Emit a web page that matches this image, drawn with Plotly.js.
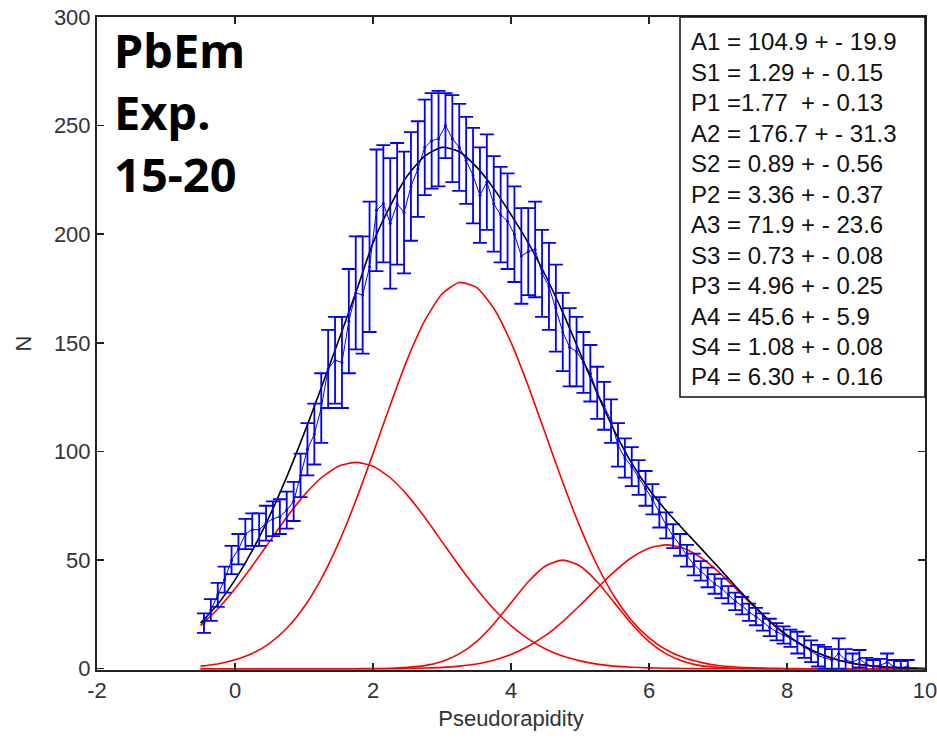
<!DOCTYPE html>
<html>
<head>
<meta charset="utf-8">
<script src="https://cdn.plot.ly/plotly-3.0.1.min.js"></script>
<style>html,body{margin:0;padding:0;background:#fff;}#plot{width:937px;height:739px;}</style>
</head>
<body>
<div id="plot"></div>
<script>
// Measured data points (Pseudorapidity, N, error)
var dataX = [-0.45,-0.35,-0.25,-0.15,-0.05,0.05,0.15,0.25,0.35,0.45,0.55,0.65,0.75,0.85,0.95,1.05,1.15,1.25,1.35,1.45,1.55,1.65,1.75,1.85,1.95,2.05,2.15,2.25,2.35,2.45,2.55,2.65,2.75,2.85,2.95,3.05,3.15,3.25,3.35,3.45,3.55,3.65,3.75,3.85,3.95,4.05,4.15,4.25,4.35,4.45,4.55,4.65,4.75,4.85,4.95,5.05,5.15,5.25,5.35,5.45,5.55,5.65,5.75,5.85,5.95,6.05,6.15,6.25,6.35,6.45,6.55,6.65,6.75,6.85,6.95,7.05,7.15,7.25,7.35,7.45,7.55,7.65,7.75,7.85,7.95,8.05,8.15,8.25,8.35,8.45,8.55,8.65,8.75,8.85,8.95,9.05,9.15,9.25,9.35,9.45,9.55,9.65,9.75];
var dataN = [21,27,34,41,50,55,62,64,64,67,69,70,73,77,89,101,108,120,138,142,141,160,173,172,185,211,214,205,214,210,222,230,240,243,244,250,244,240,234,227,218,224,214,209,206,200,190,192,193,182,176,166,155,148,146,141,136,127,121,114,103,97,93,88,83,78,72,66,61,57,52,48,45,42,39,37,34,31,29,26,24,21.5,19,17,15.5,14,12,10,8,6,5,4,7,4,3,4.6,2,1,1.5,3,1,0.5,1];
var dataErr = [4.5,5,5.5,6,6.5,7,7,7.5,7.5,8,8,8,8.5,9,10,12,14,16,18,20,21,24,26,27,30,28,27,30,28,28,25,22,22,22,22,15,20,20,20,22,22,22,22,22,22,22,22,20,22,20,20,20,18,18,16,14,13,12,11,10,10,9,9,8,8,7,7,6,5.5,5,5,5,4.5,4.5,4.5,4.5,4,4,4,4,4,4,4,4,4,4,5,5,5,5,5,5,7,5,4,4,3,3,3,4,3,3,3];

// Fit curves
var curveX = [-0.5,-0.25,0,0.25,0.5,0.75,1,1.25,1.5,1.75,2,2.25,2.5,2.75,3,3.25,3.5,3.75,4,4.25,4.5,4.75,5,5.25,5.5,5.75,6,6.25,6.5,6.75,7,7.25,7.5,7.75,8,8.25,8.5,8.75,9,9.25,9.5,9.75,10];
var comp1 = [19.8,27.5,36.8,47.3,58.5,69.7,79.8,87.9,93.2,95,93.2,87.9,79.8,69.7,58.5,47.3,36.8,27.5,19.8,13.7,9.1,5.8,3.6,2.1,1.2,0.7,0.4,0.2,0.1,0,0,0,0,0,0,0,0,0,0,0,0,0,0];
var comp2 = [1.2,2.2,4.1,7.0,11.7,18.6,28.4,41.4,57.8,77.3,99.0,121.4,142.6,160.2,172.5,177.8,175.5,165.9,150.2,130.1,108.0,85.8,65.3,47.5,33.1,22.1,14.2,8.7,5.1,2.9,1.5,0.8,0.4,0.2,0.1,0,0,0,0,0,0,0,0];
var comp3 = [0,0,0,0,0,0,0,0,0,0,0.1,0.2,0.6,1.4,3.3,6.8,12.5,20.6,30.3,40.0,47.3,50,47.3,40.0,30.3,20.6,12.5,6.8,3.3,1.4,0.6,0.2,0.1,0,0,0,0,0,0,0,0,0,0];
var comp4 = [0,0,0,0,0,0,0,0,0,0,0,0,0.1,0.3,0.6,1.2,2.2,3.9,6.5,10.3,15.3,21.7,29.2,37.1,44.8,51.2,55.5,57,55.5,51.2,44.8,37.1,29.2,21.7,15.3,10.3,6.5,3.9,2.2,1.2,0.6,0.3,0.1];
var total = [21.0,29.7,40.9,54.3,70.2,88.3,108.2,129.3,151.0,173,196,213,227,236,240,238,231,221,209,196,181,164,145.4,126.7,109.4,94.6,82.6,72.7,64.0,55.5,46.9,38.1,29.7,21.9,15.4,10.3,6.5,3.9,2.2,1.2,0.6,0.3,0.1];

// Tick labels
var xTickVals = [-2,0,2,4,6,8,10];
var xTickText = ["-2","0","2","4","6","8","10"];
var yTickVals = [0,50,100,150,200,250,300];
var yTickText = ["0","50","100","150","200","250","300"];

var fitLines = ["A1 = 104.9 + - 19.9","S1 = 1.29 + - 0.15","P1 =1.77  + - 0.13","A2 = 176.7 + - 31.3","S2 = 0.89 + - 0.56","P2 = 3.36 + - 0.37","A3 = 71.9 + - 23.6","S3 = 0.73 + - 0.08","P3 = 4.96 + - 0.25","A4 = 45.6 + - 5.9","S4 = 1.08 + - 0.08","P4 = 6.30 + - 0.16"];
var labelLines = ["PbEm","Exp.","15-20"];

var W = 937, H = 739, mL = 97, mR = 12, mT = 17, mB = 69;
var pw = W - mL - mR, ph = H - mT - mB;
function px2x(p){ return (p - mL) / pw; }
function px2y(p){ return 1 - (p - mT) / ph; }

var traces = [];
[comp1, comp2, comp3, comp4].forEach(function(c){
  traces.push({x: curveX, y: c, type: 'scatter', mode: 'lines',
    line: {color: '#ff0000', width: 1.6, shape: 'spline', smoothing: 0.6}, hoverinfo: 'skip'});
});
traces.push({x: curveX, y: total, type: 'scatter', mode: 'lines',
  line: {color: '#000000', width: 1.6, shape: 'spline', smoothing: 0.6}});
traces.push({x: dataX, y: dataN, type: 'scatter', mode: 'lines+markers',
  line: {color: '#0000ff', width: 1},
  marker: {color: '#0000ff', size: 3},
  error_y: {type: 'data', array: dataErr, visible: true, color: '#0000ff', thickness: 1.8, width: 7}});

var annotations = [];
fitLines.forEach(function(t, i){
  annotations.push({xref: 'paper', yref: 'paper', x: px2x(689), y: px2y(42 + i * 30.45),
    xanchor: 'left', yanchor: 'middle', text: t, showarrow: false,
    font: {family: 'Liberation Sans, Arial, sans-serif', size: 24, color: '#111'}});
});
labelLines.forEach(function(t, i){
  annotations.push({xref: 'paper', yref: 'paper', x: px2x(112), y: px2y(50 + i * 62),
    xanchor: 'left', yanchor: 'middle', text: '<b>' + t + '</b>', showarrow: false,
    font: {family: 'Comic Sans MS, Noto Sans, sans-serif', size: 47, color: '#000'}});
});

var tickFont = {family: 'Liberation Sans, Arial, sans-serif', size: 22, color: '#333'};
var layout = {
  width: W, height: H,
  margin: {l: mL, r: mR, t: mT, b: mB},
  paper_bgcolor: '#ffffff', plot_bgcolor: '#ffffff',
  showlegend: false,
  xaxis: {range: [-2, 10], tickmode: 'array', tickvals: xTickVals, ticktext: xTickText,
    ticks: 'inside', ticklen: 7, tickwidth: 1.5, tickcolor: '#222', ticklabeloverflow: 'allow',
    showline: true, mirror: 'ticks', linecolor: '#222', linewidth: 2, showgrid: false, zeroline: false,
    tickfont: tickFont,
    title: {text: 'Pseudorapidity', font: tickFont, standoff: 8}},
  yaxis: {range: [-0.6, 300], tickmode: 'array', tickvals: yTickVals, ticktext: yTickText,
    ticks: 'inside', ticklen: 7, tickwidth: 1.5, tickcolor: '#222', ticklabeloverflow: 'allow',
    showline: true, mirror: 'ticks', linecolor: '#222', linewidth: 2, showgrid: false, zeroline: false,
    tickfont: tickFont,
    title: {text: 'N', font: tickFont, standoff: 16}},
  shapes: [{type: 'rect', xref: 'paper', yref: 'paper', x0: px2x(680), x1: 1, y0: px2y(397), y1: 1,
    line: {color: '#111', width: 1.5}, fillcolor: 'rgba(255,255,255,1)', layer: 'above'}],
  annotations: annotations
};

Plotly.newPlot('plot', traces, layout, {displayModeBar: false, staticPlot: true});
</script>
</body>
</html>
